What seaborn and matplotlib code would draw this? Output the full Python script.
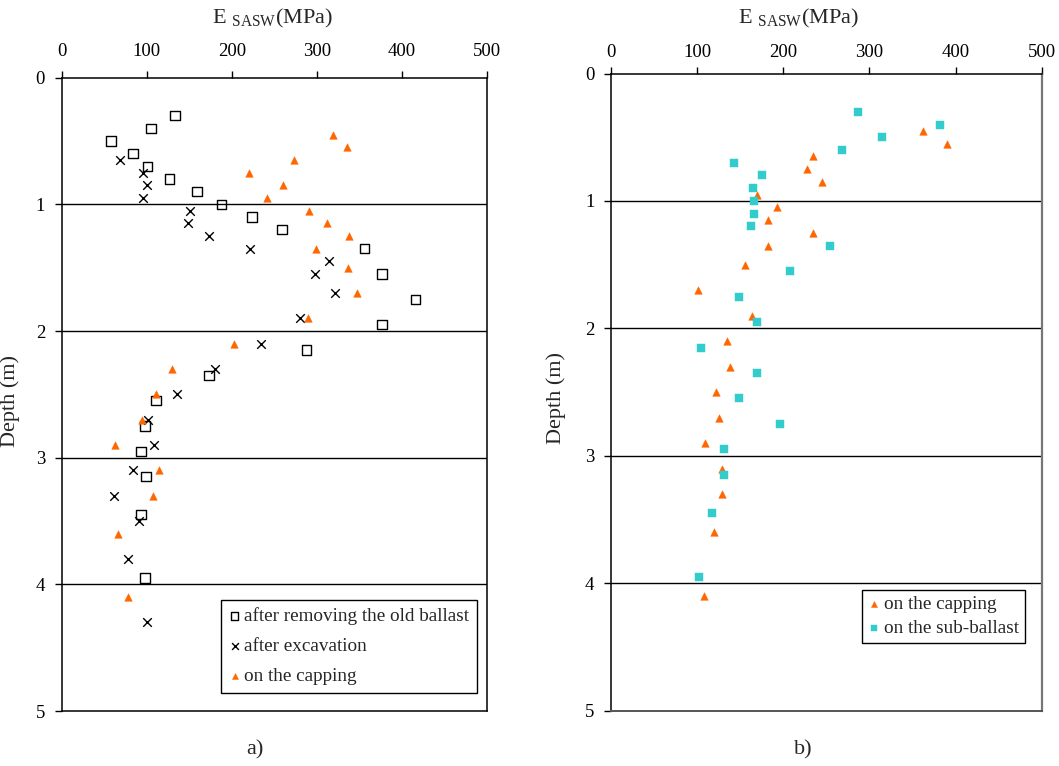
import numpy as np
import pandas as pd
import matplotlib
matplotlib.use("Agg")
import matplotlib.pyplot as plt
import seaborn as sns

sns.set_style("white")
plt.rcParams['font.family'] = ['Liberation Serif', 'DejaVu Serif']
plt.rcParams['mathtext.fontset'] = 'custom'
plt.rcParams['mathtext.rm'] = 'Liberation Serif'

# ---- data: panel a) ----
a_old_depth = [0.3, 0.4, 0.5, 0.6, 0.7, 0.8, 0.9, 1.0, 1.1, 1.2, 1.35, 1.55, 1.75, 1.95,
               2.15, 2.35, 2.55, 2.75, 2.95, 3.15, 3.45, 3.95]
a_old_E = [133, 105, 58, 84, 101, 127, 159, 188, 224, 259, 356, 377, 416, 377,
           288, 173, 111, 98, 93, 99, 93, 98]

a_exc_depth = [0.65, 0.75, 0.85, 0.95, 1.05, 1.15, 1.25, 1.35, 1.45, 1.55, 1.7, 1.9,
               2.1, 2.3, 2.5, 2.7, 2.9, 3.1, 3.3, 3.5, 3.8, 4.3]
a_exc_E = [68, 96, 100, 96, 151, 149, 173, 221, 315, 298, 322, 280,
           234, 180, 136, 102, 108, 84, 61, 91, 78, 100]

a_cap_depth = [0.45, 0.55, 0.65, 0.75, 0.85, 0.95, 1.05, 1.15, 1.25, 1.35, 1.5, 1.7, 1.9,
               2.1, 2.3, 2.5, 2.7, 2.9, 3.1, 3.3, 3.6, 4.1]
a_cap_E = [319, 336, 273, 220, 260, 242, 291, 312, 338, 299, 337, 347, 290,
           203, 130, 111, 94, 63, 114, 107, 66, 78]

# ---- data: panel b) ----
b_cap_depth = [0.45, 0.55, 0.65, 0.75, 0.85, 0.95, 1.05, 1.15, 1.25, 1.35, 1.5, 1.7, 1.9,
               2.1, 2.3, 2.5, 2.7, 2.9, 3.1, 3.3, 3.6, 4.1]
b_cap_E = [362, 390, 235, 227, 245, 169, 193, 182, 234, 182, 156, 101, 164,
           135, 138, 122, 125, 109, 129, 129, 119, 108]

b_sub_depth = [0.3, 0.4, 0.5, 0.6, 0.7, 0.8, 0.9, 1.0, 1.1, 1.2, 1.35, 1.55, 1.75, 1.95,
               2.15, 2.35, 2.55, 2.75, 2.95, 3.15, 3.45, 3.95]
b_sub_E = [287, 382, 315, 268, 143, 175, 165, 166, 166, 162, 254, 208, 148, 169,
           104, 169, 148, 196, 131, 131, 117, 102]

x_ticks = [0, 100, 200, 300, 400, 500]
y_ticks = [0, 1, 2, 3, 4, 5]

ORANGE = '#FF6600'
CYAN = '#33CCCC'

fig = plt.figure(figsize=(10.59, 7.66), dpi=100)
axA = fig.add_axes([0.0583, 0.0718, 0.4013, 0.8268])
axB = fig.add_axes([0.5770, 0.0722, 0.4067, 0.8318])

FS = 13.5
LFS = 13.8

def style_axis(ax, right_grey=False, xpad=8):
    ax.set_xlim(0, 500)
    ax.set_ylim(5, 0)
    ax.set_xticks(x_ticks)
    ax.set_yticks(y_ticks)
    ax.xaxis.tick_top()
    ax.xaxis.set_label_position('top')
    ax.tick_params(axis='x', which='both', direction='out', length=5, width=1,
                   pad=xpad, labelsize=FS, top=True, bottom=False, colors='black')
    ax.tick_params(axis='y', which='both', direction='out', length=5, width=1,
                   pad=7, labelsize=FS, left=True, colors='black')
    for yv in [1, 2, 3, 4]:
        ax.axhline(yv, color='black', lw=1.0, zorder=0)
    for s in ax.spines.values():
        s.set_color('black')
        s.set_linewidth(1.1)
        s.set_visible(True)
    if right_grey:
        ax.spines['right'].set_color('#777777')
        ax.spines['right'].set_linewidth(1.6)
        ax.spines['bottom'].set_color('#555555')
        ax.spines['bottom'].set_linewidth(1.4)
    ax.set_xlabel('')
    ax.set_ylabel('Depth (m)', fontsize=16)

# Panel a
sns.scatterplot(x=a_old_E, y=a_old_depth, ax=axA, marker='s', s=48,
                facecolor='none', edgecolor='black', linewidth=1.0,
                label='after removing the old ballast', zorder=3)
sns.scatterplot(x=a_exc_E, y=a_exc_depth, ax=axA, marker='x', s=38,
                color='black', linewidth=1.0,
                label='after excavation', zorder=3)
sns.scatterplot(x=a_cap_E, y=a_cap_depth, ax=axA, marker='^', s=30,
                color=ORANGE, edgecolor=ORANGE, linewidth=0.3,
                label='on the capping', zorder=3)
style_axis(axA, xpad=8)
axA.yaxis.set_label_coords(-0.098, 0.49)
axA.text(0.495, 1.094, r'E $_{\mathrm{SASW}}$(MPa)', transform=axA.transAxes,
         ha='center', va='center', fontsize=16)

legA = axA.legend(loc='lower right', bbox_to_anchor=(0.976, 0.029), fontsize=LFS,
                  frameon=True, fancybox=False, edgecolor='black', framealpha=1,
                  handletextpad=0.15, labelspacing=0.66, borderpad=0.38,
                  borderaxespad=0, handlelength=0.7, markerscale=0.8)
legA.get_frame().set_linewidth(1.0)

# Panel b
sns.scatterplot(x=b_cap_E, y=b_cap_depth, ax=axB, marker='^', s=30,
                color=ORANGE, edgecolor=ORANGE, linewidth=0.3,
                label='on the capping', zorder=3)
sns.scatterplot(x=b_sub_E, y=b_sub_depth, ax=axB, marker='s', s=26,
                color=CYAN, edgecolor=CYAN, linewidth=0.3,
                label='on the sub-ballast', zorder=3)
style_axis(axB, right_grey=True, xpad=4)
axB.yaxis.set_label_coords(-0.1045, 0.49)
axB.text(0.4365, 1.087, r'E $_{\mathrm{SASW}}$(MPa)', transform=axB.transAxes,
         ha='center', va='center', fontsize=16)

legB = axB.legend(loc='lower right', bbox_to_anchor=(0.96, 0.106), fontsize=LFS,
                  frameon=True, fancybox=False, edgecolor='black', framealpha=1,
                  handletextpad=0.15, labelspacing=0.38, borderpad=0.3,
                  borderaxespad=0, handlelength=0.7, markerscale=0.8)
legB.get_frame().set_linewidth(1.0)

fig.text(255 / 1059, 1 - 750 / 766, 'a)', ha='center', va='center', fontsize=16)
fig.text(803 / 1059, 1 - 750 / 766, 'b)', ha='center', va='center', fontsize=16)

fig.savefig('out.png', dpi=100)
